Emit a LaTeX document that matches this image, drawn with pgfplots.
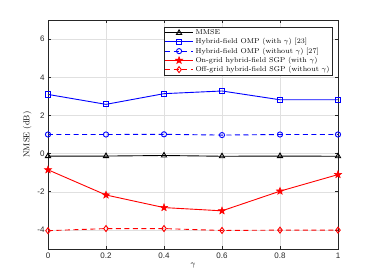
\documentclass[border=0pt]{standalone}
\usepackage{pgfplots}
\pgfplotsset{compat=1.18}
\usepackage{fontspec}
\newfontfamily\arial{Liberation Sans}
\definecolor{axgray}{RGB}{38,38,38}
\pgfdeclareplotmark{pentagram}{%
  \pgfpathmoveto{\pgfqpointpolar{90}{\pgfplotmarksize}}%
  \pgfpathlineto{\pgfqpointpolar{126}{0.42\pgfplotmarksize}}%
  \pgfpathlineto{\pgfqpointpolar{162}{\pgfplotmarksize}}%
  \pgfpathlineto{\pgfqpointpolar{198}{0.42\pgfplotmarksize}}%
  \pgfpathlineto{\pgfqpointpolar{234}{\pgfplotmarksize}}%
  \pgfpathlineto{\pgfqpointpolar{270}{0.42\pgfplotmarksize}}%
  \pgfpathlineto{\pgfqpointpolar{306}{\pgfplotmarksize}}%
  \pgfpathlineto{\pgfqpointpolar{342}{0.42\pgfplotmarksize}}%
  \pgfpathlineto{\pgfqpointpolar{18}{\pgfplotmarksize}}%
  \pgfpathlineto{\pgfqpointpolar{54}{0.42\pgfplotmarksize}}%
  \pgfpathclose
  \pgfusepathqfillstroke}
\begin{document}
\begin{tikzpicture}
\begin{axis}[name=ax, at={(0,0)}, anchor=south west,
  scale only axis, width=290pt, height=229pt,
  xmin=0, xmax=1, ymin=-5, ymax=7,
  xtick={0,0.2,0.4,0.6,0.8,1}, ytick={-4,-2,0,2,4,6},
  xticklabels={0,0.2,0.4,0.6,0.8,1},
  grid=major, grid style={black!12, line width=0.4pt},
  axis line style={axgray, line width=0.5pt},
  tick align=inside, major tick length=3pt, tick style={axgray, line width=0.5pt},
  tick label style={font=\arial\fontsize{8}{9}\selectfont, text=axgray},
  /pgf/number format/assume math mode=true,
  xlabel={$\gamma$}, ylabel={NMSE (dB)},
  label style={font=\fontsize{8.5}{10}\selectfont},
  xlabel style={yshift=2pt},
  ylabel style={yshift=-1pt},
  legend style={at={(0.98,0.97)}, anchor=north east,
    font=\fontsize{7.1}{8}\selectfont, draw=axgray, line width=0.5pt,
    inner sep=0.5pt, row sep=-1.6pt, cells={anchor=west}},
  legend image code/.code={\draw[mark repeat=2,mark phase=2] plot coordinates {(0pt,0pt)(14pt,0pt)(28pt,0pt)};},
  every axis plot/.append style={line width=0.9pt, mark size=2.6pt, mark options={solid, line width=0.9pt}},
  mydash/.style={dash pattern=on 5pt off 3.5pt},
]
\addplot[black, mark=triangle, mark size=3pt] coordinates {(0,-0.13)(0.2,-0.13)(0.4,-0.1)(0.6,-0.14)(0.8,-0.13)(1,-0.14)};
\addlegendentry{MMSE}
\addplot[blue, mark=square] coordinates {(0,3.1)(0.2,2.58)(0.4,3.14)(0.6,3.28)(0.8,2.82)(1,2.82)};
\addlegendentry{Hybrid-field OMP (with $\gamma$) [23]}
\addplot[blue, mydash, mark=o] coordinates {(0,1.0)(0.2,1.0)(0.4,1.01)(0.6,0.97)(0.8,1.0)(1,1.0)};
\addlegendentry{Hybrid-field OMP (without $\gamma$) [27]}
\addplot[red, mark=pentagram, mark options={fill=red, line width=0.5pt}, mark size=3.8pt] coordinates {(0,-0.85)(0.2,-2.17)(0.4,-2.83)(0.6,-3.0)(0.8,-1.97)(1,-1.1)};
\addlegendentry{On-grid hybrid-field SGP (with $\gamma$)}
\addplot[red, mydash, mark=diamond, mark size=3pt] coordinates {(0,-4.04)(0.2,-3.93)(0.4,-3.93)(0.6,-4.03)(0.8,-4.01)(1,-4.01)};
\addlegendentry{Off-grid hybrid-field SGP (without $\gamma$)}
\end{axis}
\path ([xshift=-48pt,yshift=-31pt]ax.south west) rectangle ([xshift=36pt,yshift=20pt]ax.north east);
\end{tikzpicture}
\end{document}
